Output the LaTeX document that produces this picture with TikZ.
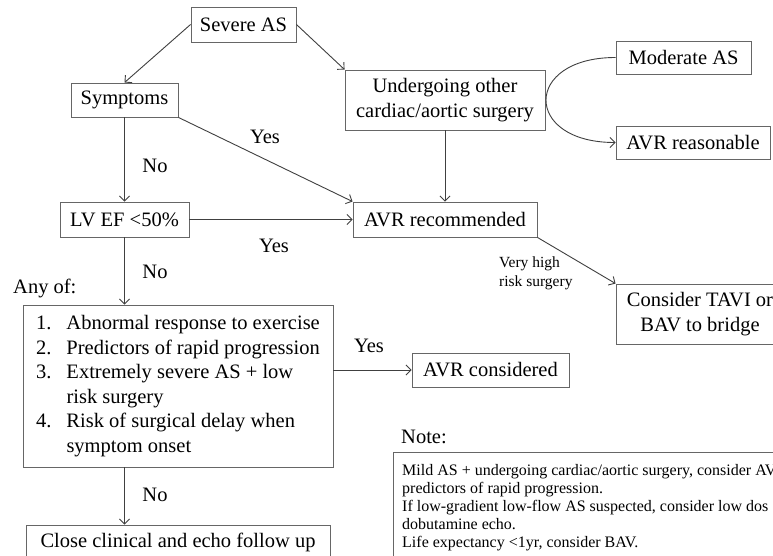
\documentclass[tikz,border=0pt]{standalone}
\usepackage{fontspec}
\setmainfont{Liberation Serif}
\usetikzlibrary{arrows.meta}
\begin{document}
\begin{tikzpicture}[x=1pt,y=-1pt,
  box/.style={draw=black!60, line width=0.9pt, inner sep=0pt, align=center,
    font=\fontsize{20.5}{24.5}\selectfont},
  lbl/.style={inner sep=0pt, font=\fontsize{20.5}{24.5}\selectfont},
  conn/.style={draw=black!75, line width=0.9pt, -{Straight Barb[length=5pt,width=10pt]}}
]
\useasboundingbox (0,0) rectangle (773,556);
\clip (0,0) rectangle (773,556);
\fill[white] (0,0) rectangle (773,556);

% boxes
\node[box, minimum width=105pt, minimum height=35pt] (sev) at (243.5,24.5) {Severe AS};
\node[box, minimum width=107pt, minimum height=34pt] (symp) at (124.5,100) {Symptoms};
\node[box, minimum width=200pt, minimum height=60pt] (und) at (445,100) {Undergoing other\\cardiac/aortic surgery};
\node[box, minimum width=135pt, minimum height=33pt] (mod) at (683.5,57.5) {Moderate AS};
\node[box, minimum width=154pt, minimum height=33pt] (avrr) at (693,142.5) {AVR reasonable};
\node[box, minimum width=129pt, minimum height=35pt] (lvef) at (124.5,219.5) {LV EF <50\%};
\node[box, minimum width=184pt, minimum height=35pt] (avr) at (445,219.5) {AVR recommended};
\node[box, minimum width=168pt, minimum height=60pt] (tavi) at (700,314) {Consider TAVI or\\BAV to bridge};
\node[box, minimum width=310pt, minimum height=162pt] (big) at (178,386) {%
  \begin{tabular}{@{}l@{\hskip 15pt}l@{}}
  1. & Abnormal response to exercise\\
  2. & Predictors of rapid progression\\
  3. & Extremely severe AS + low\\
     & risk surgery\\
  4. & Risk of surgical delay when\\
     & symptom onset
  \end{tabular}};
\node[box, minimum width=157pt, minimum height=34pt] (avrc) at (490.5,370) {AVR considered};
\node[box, minimum width=304pt, minimum height=35pt] (close) at (178,542.5) {Close clinical and echo follow up};

% note
\node[lbl, anchor=west] (notelbl) at (401,437) {Note:};
\draw[draw=black!60, line width=0.9pt] (393,452) rectangle (800,600);
\node[inner sep=0pt, anchor=north west, align=left, font=\fontsize{16}{17.8}\selectfont] (notetxt) at (402,464.5)
  {Mild AS + undergoing cardiac/aortic surgery, consider AV\\
   predictors of rapid progression.\\
   If low-gradient low-flow AS suspected, consider low dos\\
   dobutamine echo.\\
   Life expectancy <1yr, consider BAV.};

% labels
\node[lbl] (yes1) at (265,137) {Yes};
\node[lbl] (no1) at (155,166) {No};
\node[lbl] (yes2) at (274,246) {Yes};
\node[lbl] (no2) at (155,272) {No};
\node[lbl, anchor=west] (anyof) at (13,288) {Any of:};
\node[lbl] (yes3) at (369,346) {Yes};
\node[lbl] (no3) at (155,495) {No};
\node[inner sep=0pt, anchor=north west, align=left, font=\fontsize{15.5}{18.5}\selectfont] (vhr) at (499,257) {Very high\\risk surgery};

% connectors
\draw[conn] (sev.west) -- (symp.north);
\draw[conn] (sev.east) -- (und.north west);
\draw[conn] (symp.south east) -- (avr.north west);
\draw[conn] (symp.south) -- (lvef.north);
\draw[conn] (lvef.east) -- (avr.west);
\draw[conn] (und.south) -- (avr.north);
\draw[conn] (avr.south east) -- (tavi.north west);
\draw[conn] (lvef.south) -- (lvef.south |- big.north);
\draw[conn] (big.east |- avrc.west) -- (avrc.west);
\draw[conn] (lvef.south |- big.south) -- (lvef.south |- close.north);
\draw[conn] (mod.west) .. controls (523,57.5) and (523,142.5) .. (avrr.west);
\end{tikzpicture}
\end{document}
